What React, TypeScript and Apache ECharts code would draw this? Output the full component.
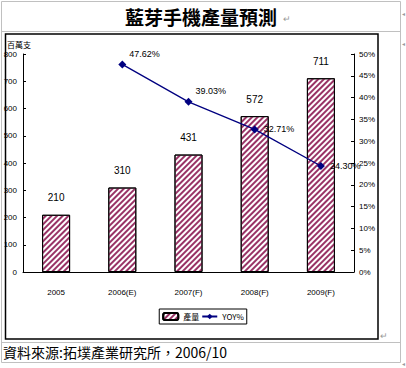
import React, { useEffect, useRef } from "react";
import * as echarts from "echarts";

const categories = ["2005", "2006(E)", "2007(F)", "2008(F)", "2009(F)"];
const production = [210, 310, 431, 572, 711];
const yoy: (number | null)[] = [null, 47.62, 39.03, 32.71, 24.3];
const barName = "產量";
const lineName = "YOY%";
const title = "藍芽手機產量預測";
const unitLabel = "百萬支";
const sourceText = "資料來源:拓墣產業研究所，2006/10";

const narrow = "'Liberation Sans Narrow', 'Liberation Sans', Arial, sans-serif";

export default function App() {
  const ref = useRef<HTMLDivElement>(null);
  useEffect(() => {
    if (!ref.current) return;
    const chart = echarts.init(ref.current, null, { renderer: "svg" });
    const yoyData = yoy.map((v, i) => ({
      value: v,
      label: i <= 2 ? { position: [11, -11] } : { position: "right", distance: 5 },
    }));
    chart.setOption({
      animation: false,
      backgroundColor: "#ffffff",
      grid: { left: 23, right: 52, top: 54, bottom: 96, containLabel: false },
      legend: {
        bottom: 44,
        left: "center",
        itemWidth: 15,
        itemHeight: 7,
        itemGap: 2,
        padding: [3, 3, 3, 3],
        borderColor: "#000",
        borderWidth: 1,
        textStyle: { fontSize: 8, color: "#000", fontFamily: "'Noto Sans CJK TC', " + narrow },
        data: [barName, lineName],
      },
      xAxis: {
        type: "category",
        data: categories,
        axisLine: { lineStyle: { color: "#000", width: 1 } },
        axisTick: { inside: true, length: 3, lineStyle: { color: "#000" } },
        axisLabel: { color: "#000", fontSize: 8, margin: 16, fontFamily: narrow },
      },
      yAxis: [
        {
          type: "value",
          min: 0,
          max: 800,
          interval: 100,
          splitLine: { show: false },
          axisLine: { show: true, lineStyle: { color: "#000" } },
          axisTick: { show: true, inside: true, length: 3, lineStyle: { color: "#000" } },
          axisLabel: { color: "#000", fontSize: 8, margin: 6, fontFamily: narrow },
        },
        {
          type: "value",
          min: 0,
          max: 50,
          interval: 5,
          splitLine: { show: false },
          axisLine: { show: true, lineStyle: { color: "#000" } },
          axisTick: { show: true, inside: true, length: 3, lineStyle: { color: "#000" } },
          axisLabel: { color: "#000", fontSize: 8, margin: 5, fontFamily: narrow, formatter: "{value}%" },
        },
      ],
      series: [
        {
          name: barName,
          type: "bar",
          data: production,
          barWidth: 28,
          itemStyle: {
            color: "#ffffff",
            borderColor: "#000",
            borderWidth: 1,
            decal: {
              symbol: "rect",
              symbolSize: 1,
              color: "#993366",
              dashArrayX: [1, 0],
              dashArrayY: [2, 2],
              rotation: -Math.PI / 4,
            },
          },
          label: {
            show: true,
            position: "top",
            distance: 12,
            color: "#000",
            fontSize: 10,
            fontFamily: narrow,
          },
        },
        {
          name: lineName,
          type: "line",
          yAxisIndex: 1,
          data: yoyData,
          symbol: "diamond",
          symbolSize: 8,
          lineStyle: { color: "#000080", width: 1.3 },
          itemStyle: { color: "#000080" },
          label: {
            show: true,
            color: "#000",
            fontSize: 9,
            fontFamily: narrow,
            formatter: (p: any) => (p.value == null ? "" : Number(p.value).toFixed(2) + "%"),
          },
        },
      ],
      graphic: [
        { type: "rect", shape: { x: 1.5, y: 1.5, width: 399, height: 361 }, style: { fill: "none", stroke: "#c0c0c0", lineWidth: 1 }, silent: true },
        { type: "line", shape: { x1: 1.5, y1: 31.5, x2: 400.5, y2: 31.5 }, style: { stroke: "#c0c0c0", lineWidth: 1 }, silent: true },
        { type: "line", shape: { x1: 1.5, y1: 342.5, x2: 400.5, y2: 342.5 }, style: { stroke: "#c0c0c0", lineWidth: 1 }, silent: true },
        { type: "rect", shape: { x: 5.5, y: 34, width: 372.5, height: 305 }, style: { fill: "none", stroke: "#000", lineWidth: 1.5 }, silent: true },
        {
          type: "text",
          x: 201,
          y: 16,
          style: {
            text: title,
            fill: "#000",
            font: "bold 19px 'Noto Sans CJK TC', serif",
            align: "center",
            verticalAlign: "middle",
          },
        },
        { type: "text", x: 283, y: 19, style: { text: "↵", fill: "#999", font: "9px sans-serif", verticalAlign: "middle" } },
        {
          type: "text",
          x: 7,
          y: 44,
          style: { text: unitLabel, fill: "#000", font: "8px 'Noto Sans CJK TC', sans-serif", verticalAlign: "middle" },
        },
        { type: "text", x: 380, y: 336, style: { text: "↵", fill: "#999", font: "9px sans-serif", verticalAlign: "middle" } },
        {
          type: "text",
          x: 3,
          y: 352,
          style: { text: sourceText, fill: "#000", font: "14px 'Noto Sans CJK TC', sans-serif", verticalAlign: "middle" },
        },
        { type: "text", x: 402, y: 14, style: { text: "◂", fill: "#999", font: "6px sans-serif", verticalAlign: "middle" } },
        { type: "text", x: 402, y: 44, style: { text: "◂", fill: "#999", font: "6px sans-serif", verticalAlign: "middle" } },
        { type: "text", x: 402, y: 364, style: { text: "◂", fill: "#999", font: "6px sans-serif", verticalAlign: "middle" } },
      ],
    });
    return () => chart.dispose();
  }, []);
  return <div ref={ref} style={{ position: "fixed", left: 0, top: 0, width: 406, height: 368 }} />;
}
